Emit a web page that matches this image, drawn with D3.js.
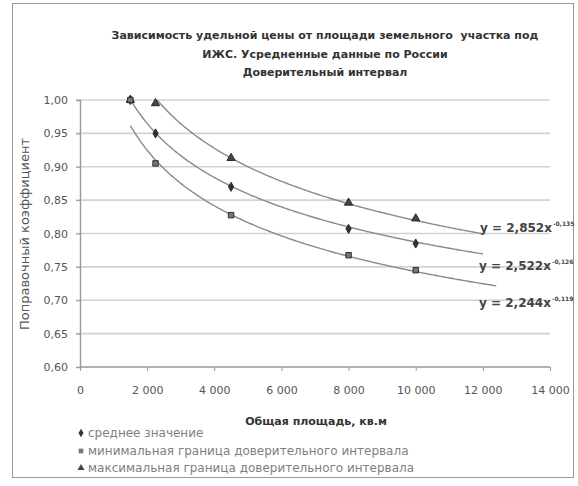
<!DOCTYPE html>
<html>
<head>
<meta charset="utf-8">
<script src="https://cdnjs.cloudflare.com/ajax/libs/d3/7.8.5/d3.min.js"></script>
<style>
    body { margin: 0; background: #fff; }
    text { font-family: "DejaVu Sans", sans-serif; }
</style>
</head>
<body>
<script>
// values
var area = [1500, 2250, 4500, 8000, 10000];
var meanValues = [1.00, 0.95, 0.87, 0.807, 0.785];
var minValues = [1.00, 0.905, 0.8275, 0.7675, 0.745];
var maxValues = [1.00, 0.995, 0.913, 0.846, 0.8225];
var seriesNames = [
    'среднее значение',
    'минимальная граница доверительного интервала',
    'максимальная граница доверительного интервала'
];
// power trendlines y = a * x^b, order: mean, min, max
var trendA = [2.522, 2.6, 2.852];
var trendB = [-0.1264, -0.136, -0.1354];
var trendEnd = [12000, 12400, 12000];
// the equation texts as printed on the chart, top to bottom
var eqText = ['y = 2,852x', 'y = 2,522x', 'y = 2,244x'];
var eqPow = ['-0,135', '-0,126', '-0,119'];
var xTicks = [0, 2000, 4000, 6000, 8000, 10000, 12000, 14000];
var yTicks = [0.60, 0.65, 0.70, 0.75, 0.80, 0.85, 0.90, 0.95, 1.00];
var titleLines = [
    'Зависимость удельной цены от площади земельного  участка под',
    'ИЖС. Усредненные данные по России',
    'Доверительный интервал'
];
var xTitle = 'Общая площадь, кв.м';
var yTitle = 'Поправочный коэффициент';

var W = 578, H = 486;
var svg = d3.select('body').append('svg').attr('width', W).attr('height', H);

svg.append('rect').attr('x', 12.5).attr('y', 3.5).attr('width', 561).attr('height', 474)
    .attr('fill', '#fff').attr('stroke', '#999');

var x = d3.scaleLinear().domain([0, 14000]).range([80, 550]);
var y = d3.scaleLinear().domain([0.6, 1.0]).range([367, 100]);

// title
svg.append('g').selectAll('text').data(titleLines).enter().append('text')
    .attr('x', 325).attr('y', function(d, i) { return 39 + i * 18.5; })
    .attr('text-anchor', 'middle').attr('font-size', 11).attr('font-weight', 'bold')
    .attr('fill', '#333').attr('xml:space', 'preserve')
    .text(function(d) { return d; });

// gridlines
svg.append('g').selectAll('line').data(yTicks.slice(1)).enter().append('line')
    .attr('x1', 76).attr('x2', x(14000))
    .attr('y1', function(d) { return y(d); }).attr('y2', function(d) { return y(d); })
    .attr('stroke', '#d2d2d2').attr('stroke-width', 1.6);

// axes
var fmtY = function(d) { return d3.format('.2f')(d).replace('.', ','); };
var fmtX = function(d) { return d3.format(',')(d).replace(/,/g, '\u00a0'); };

var yAxis = svg.append('g').attr('transform', 'translate(80,0)')
    .call(d3.axisLeft(y).tickValues(yTicks).tickFormat(fmtY).tickSize(4).tickPadding(8));
var xAxis = svg.append('g').attr('transform', 'translate(0,367)')
    .call(d3.axisBottom(x).tickValues(xTicks).tickFormat(fmtX).tickSize(4).tickPadding(15));
[yAxis, xAxis].forEach(function(a) {
    a.select('.domain').attr('stroke', '#999').attr('stroke-width', 1.4);
    a.selectAll('.tick line').attr('stroke', '#999');
    a.selectAll('.tick text').attr('fill', '#555').attr('font-size', 11)
        .attr('font-family', '"DejaVu Sans", sans-serif');
});
xAxis.select('.domain').attr('d', 'M80,0H550');

// axis titles
svg.append('text').attr('x', 316).attr('y', 425).attr('text-anchor', 'middle')
    .attr('font-size', 11).attr('font-weight', 'bold').attr('fill', '#333').text(xTitle);
svg.append('text').attr('transform', 'translate(29,234) rotate(-90)').attr('text-anchor', 'middle')
    .attr('font-size', 13).attr('fill', '#555').text(yTitle);

// trendlines
svg.append('clipPath').attr('id', 'plot').append('rect')
    .attr('x', 80).attr('y', 100).attr('width', 470).attr('height', 267);

var line = d3.line().x(function(d) { return x(d[0]); }).y(function(d) { return y(d[1]); });
var curves = svg.append('g').attr('clip-path', 'url(#plot)');
trendA.forEach(function(a, i) {
    var pts = d3.range(area[0], trendEnd[i] + 1, 50).map(function(v) {
        return [v, a * Math.pow(v, trendB[i])];
    });
    curves.append('path').datum(pts).attr('d', line)
        .attr('fill', 'none').attr('stroke', '#8a8a8a').attr('stroke-width', 1.4);
});

// markers
var symbols = [d3.symbolDiamond, d3.symbolSquare, d3.symbolTriangle];
var symbolSize = [24, 30, 30];
var symbolFill = ['#333', '#777', '#444'];
[0, 2, 1].forEach(function(i) {
    var vals = [meanValues, minValues, maxValues][i];
    svg.append('g').selectAll('path').data(vals).enter().append('path')
        .attr('transform', function(d, k) { return 'translate(' + x(area[k]) + ',' + y(d) + ')'; })
        .attr('d', d3.symbol().type(symbols[i]).size(symbolSize[i]))
        .attr('fill', symbolFill[i]).attr('stroke', '#222').attr('stroke-width', 0.9);
});

// trendline equations
var eqPos = [[480, 232], [479, 270], [479, 307]];
eqText.forEach(function(t, i) {
    var lbl = svg.append('text').attr('x', eqPos[i][0]).attr('y', eqPos[i][1])
        .attr('font-size', 12).attr('font-weight', 'bold').attr('fill', '#444');
    lbl.append('tspan').text(t);
    lbl.append('tspan').attr('dy', -6).attr('dx', 1).attr('font-size', 6).text(eqPow[i]);
});

// legend
var legend = svg.append('g').selectAll('g').data(seriesNames).enter().append('g')
    .attr('transform', function(d, i) { return 'translate(81,' + [433, 451, 468][i] + ')'; });
legend.append('path')
    .attr('d', function(d, i) { return d3.symbol().type(symbols[i]).size(22)(); })
    .attr('fill', function(d, i) { return symbolFill[i]; });
legend.append('text').attr('x', 7).attr('y', 4).attr('font-size', 12).attr('fill', '#808080')
    .text(function(d) { return d; });
</script>
</body>
</html>
